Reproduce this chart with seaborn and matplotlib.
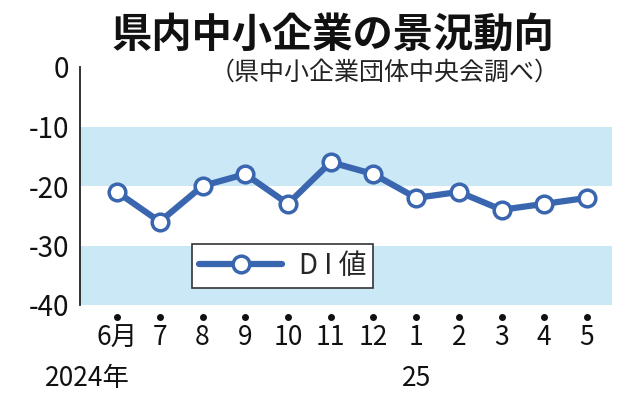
import matplotlib
matplotlib.use("Agg")
import matplotlib.pyplot as plt
import seaborn as sns
import pandas as pd

months = ["6月", "7", "8", "9", "10", "11", "12", "1", "2", "3", "4", "5"]
di_values = [-21, -26, -20, -18, -23, -16, -18, -22, -21, -24, -23, -22]
y_ticks = [0, -10, -20, -30, -40]
bands = [(-20, -10), (-40, -30)]
title = "県内中小企業の景況動向"
subtitle = "（県中小企業団体中央会調べ）"
series_name = "D I 値"

sns.set_theme(style="white")
plt.rcParams['font.family'] = ['Noto Sans CJK JP', 'DejaVu Sans']

df = pd.DataFrame({"idx": range(len(months)), "val": di_values})

fig = plt.figure(figsize=(6.34, 4.0), dpi=100)
ax = fig.add_axes([0.126, 0.2375, 0.839, 0.595])

line_color = "#3a66b0"
band_color = "#cbe8f7"
for lo, hi in bands:
    ax.axhspan(lo, hi, color=band_color, lw=0, zorder=0)

sns.lineplot(data=df, x="idx", y="val", ax=ax, color=line_color, lw=4.5,
             marker="o", markersize=12, markerfacecolor="white",
             markeredgecolor=line_color, markeredgewidth=2.5,
             label=series_name, zorder=3, clip_on=False)

ax.set_xlim(-0.87, 11.58)
ax.set_ylim(-40, 0)
ax.set_yticks(y_ticks)
ax.set_yticklabels([str(v) for v in y_ticks], fontsize=20)
ax.set_xticks(range(len(months)))
ax.set_xticklabels(months, fontsize=19)
ax.set_xlabel("")
ax.set_ylabel("")

for s in ["top", "right", "bottom"]:
    ax.spines[s].set_visible(False)
ax.spines["left"].set_color("#222222")
ax.spines["left"].set_linewidth(1.3)
ax.tick_params(axis="y", direction="out", length=7, width=1.3, color="#222222", pad=1, labelcolor="#111111")
ax.tick_params(axis="x", length=0, pad=14, labelcolor="#111111")

# dot tick marks below axis
for i in range(len(months)):
    ax.plot(i, -42.0, marker="o", markersize=4, color="#111111", clip_on=False)

ax.text(0.3, -52.3, "2024年", fontsize=19, ha="right", va="center", color="#111111")
ax.text(7, -52.3, "25", fontsize=19, ha="center", va="center", color="#111111")

fig.text(0.525, 0.912, title, fontsize=29, fontweight="bold", ha="center", va="center", color="#111111")
fig.text(0.607, 0.818, subtitle, fontsize=18, ha="center", va="center", color="#222222")

leg = ax.legend(loc="upper left", bbox_to_anchor=(0.185, 0.315), frameon=True, fancybox=False,
                fontsize=20, handlelength=3.0, borderpad=0.25, handletextpad=0.6)
leg.get_frame().set_edgecolor("#333333")
leg.get_frame().set_linewidth(1.2)
leg.get_frame().set_facecolor("white")
leg.get_frame().set_alpha(1)

fig.savefig("out.png", dpi=100)
